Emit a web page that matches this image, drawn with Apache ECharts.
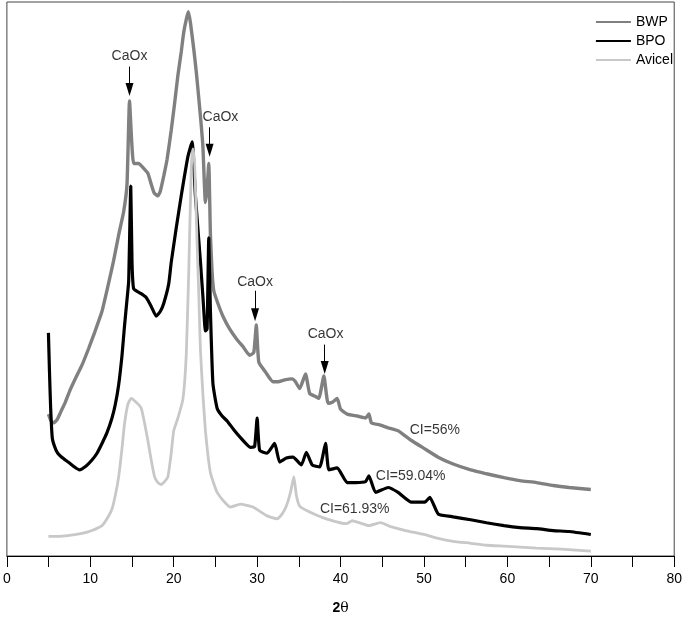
<!DOCTYPE html>
<html>
<head>
<meta charset="utf-8">
<script src="https://cdn.jsdelivr.net/npm/echarts@6/dist/echarts.min.js"></script>
<style>html,body{margin:0;padding:0;background:#fff}#c{width:685px;height:620px}</style>
</head>
<body>
<div id="c"></div>
<script>
// 2θ (deg) and relative intensity (arbitrary, offset stacked)
var bwp = [[4.98,145],[5.3,138],[5.6,136],[6.0,139],[6.5,148],[7.0,157],[7.5,168],[8.2,181],[9.0,195],[9.8,212],[10.5,228],[11.4,250],[12.2,279],[12.8,302],[13.4,328],[14.0,352],[14.4,380],[14.7,465],[14.95,425],[15.2,401],[15.8,401],[16.4,396],[16.9,391],[17.3,380],[17.65,371],[18.1,368],[18.4,373],[18.8,388],[19.2,405],[19.7,435],[20.1,462],[20.5,491],[20.9,515],[21.2,535],[21.5,548],[21.75,556],[22.0,545],[22.4,518],[22.7,495],[23.0,468],[23.3,440],[23.5,418],[23.8,361],[24.0,375],[24.2,401],[24.4,328],[24.6,290],[24.8,271],[25.3,258],[25.9,245],[26.7,232],[27.6,221],[28.3,214],[29.1,205],[29.6,208],[29.9,236],[30.2,198],[31.0,188],[31.9,178],[32.5,178],[33.3,180],[34.2,181],[34.6,178],[35.1,171],[35.8,186],[36.3,166],[37.0,163],[37.4,161],[38.0,184],[38.5,156],[39.0,157],[39.6,161],[40.0,150],[40.8,145],[42.0,143],[43.0,141],[43.4,145],[43.7,136],[44.7,134],[45.7,131],[46.9,128],[47.7,123],[48.5,118],[50.0,110],[51.7,101],[53.5,94],[55.6,88],[57.5,84],[59.6,80],[61.5,77],[63.5,75],[65.5,72],[67.4,70],[70.0,68]];
var bpo = [[4.98,228],[5.1,190],[5.25,150],[5.45,120],[5.9,108],[6.3,103],[7.0,98],[7.5,95],[8.1,91],[8.7,88],[9.5,92],[10.2,98],[10.8,105],[11.4,115],[12.0,126],[12.6,141],[13.0,155],[13.4,175],[13.8,205],[14.1,235],[14.4,262],[14.6,281],[14.85,378],[15.0,300],[15.2,273],[16.1,268],[16.7,264],[17.3,255],[17.9,245],[18.4,250],[18.8,258],[19.4,278],[19.7,300],[20.3,335],[20.9,368],[21.7,408],[22.2,423],[22.6,368],[23.2,301],[23.5,265],[23.8,230],[24.0,232],[24.2,325],[24.4,250],[24.7,176],[25.2,151],[25.8,143],[26.4,138],[27.2,129],[28.0,121],[29.2,111],[29.7,112],[30.0,141],[30.3,108],[31.2,105],[32.1,115],[32.7,96],[33.5,100],[34.3,101],[35.3,93],[35.9,106],[36.6,93],[37.5,91],[38.2,115],[38.6,88],[39.6,90],[40.8,75],[41.8,75],[43.0,76],[43.4,82],[44.2,65],[45.7,70],[46.9,65],[48.5,55],[50.1,55],[50.7,60],[51.7,43],[53.5,40],[55.6,37],[57.5,34],[59.6,31],[61.5,29],[63.5,28],[65.5,26],[67.4,25],[70.0,22]];
var avicel = [[4.98,20],[6.0,20],[7.5,21],[9.0,23],[10.2,26],[11.4,31],[12.0,38],[12.6,48],[13.0,62],[13.4,81],[13.8,110],[14.1,135],[14.5,155],[14.9,161],[15.5,157],[16.1,151],[16.5,136],[16.9,118],[17.3,98],[17.7,81],[18.1,75],[18.5,73],[18.9,76],[19.3,81],[19.7,105],[20.0,128],[20.5,141],[21.1,160],[21.5,205],[21.8,290],[22.1,395],[22.3,416],[22.5,403],[22.8,320],[23.0,268],[23.2,211],[23.5,165],[23.8,128],[24.1,103],[24.4,85],[24.8,74],[25.2,65],[26.0,56],[26.8,50],[28.0,53],[29.5,50],[31.2,41],[32.4,38],[33.0,43],[33.5,51],[34.0,65],[34.4,81],[34.7,62],[35.1,51],[36.3,45],[38.3,38],[40.7,33],[41.4,36],[43.4,31],[44.8,34],[46.0,30],[47.8,26],[50.0,22],[51.7,18],[53.5,15],[55.6,13],[57.5,11],[59.6,10],[63.5,8],[66.5,7],[70.0,5]];

// annotations
var caoxText = [[14.7,511],[25.6,448],[29.75,280],[38.2,227]];
var caoxArrowX = [14.7,24.3,29.75,38.1];
var caoxArrowTop = [500,438,271,216];
var caoxArrowTip = [470,408,240,186];
var ciLabels = ['CI=56%','CI=59.04%','CI=61.93%'];
var ciPos = [[51.3,129],[48.4,82],[41.7,48]];
var seriesNames = ['BWP','BPO','Avicel'];

var FONT = 'Liberation Sans, Arial, Helvetica, sans-serif';
var chart = echarts.init(document.getElementById('c'), null, {renderer:'canvas'});

var annData = caoxText.map(function(p){return {value:p, name:'CaOx'};})
  .concat(ciPos.map(function(p,i){return {value:p, name:ciLabels[i]};}));
// triangle head is centred on the line end, so stop the line half a head above the tip
var HEAD = 13;
var arrows = caoxArrowX.map(function(x,i){
  return [{coord:[x,caoxArrowTop[i]]},{coord:[x,caoxArrowTip[i] + HEAD/2]}];
});

function lineSeries(name, data, color, width, z){
  return {name:name,type:'line',data:data,showSymbol:false,symbol:'none',color:color,
    smooth:0.15,lineStyle:{width:width,color:color},z:z};
}

chart.setOption({
  animation:false,
  textStyle:{fontFamily:FONT},
  grid:{left:4,right:6,top:2,bottom:52,show:true,borderColor:'#444',borderWidth:1,backgroundColor:'transparent'},
  legend:{
    data:seriesNames, orient:'vertical', right:7, top:10,
    icon:'rect', itemWidth:35, itemHeight:2, itemGap:5, itemTextGap:3,
    textStyle:{fontSize:14,color:'#000',fontFamily:FONT}
  },
  xAxis:{
    type:'value', min:0, max:80, interval:10,
    name:'{b|2}{t|θ}', nameLocation:'middle', nameGap:45,
    nameTextStyle:{rich:{b:{fontSize:14,fontWeight:'bold',color:'#000',fontFamily:FONT},t:{fontSize:14,color:'#000',fontFamily:'DejaVu Serif, serif'}}},
    axisLine:{lineStyle:{color:'#000',width:1}},
    axisTick:{show:true,inside:false,length:11,lineStyle:{color:'#000'}},
    minorTick:{show:true,splitNumber:2,length:11,lineStyle:{color:'#000'}},
    splitLine:{show:false},
    axisLabel:{fontSize:14,color:'#000',margin:16,fontFamily:FONT}
  },
  yAxis:{type:'value',min:0,max:566,show:false,splitLine:{show:false}},
  series:[
    lineSeries('BWP', bwp, '#808080', 3.4, 2),
    lineSeries('BPO', bpo, '#000000', 3.2, 3),
    lineSeries('Avicel', avicel, '#c8c8c8', 2.8, 4),
    {name:'ann',type:'scatter',data:annData,symbolSize:1,itemStyle:{color:'rgba(0,0,0,0)'},silent:true,z:10,
      label:{show:true,position:'inside',formatter:'{b}',fontSize:14,color:'#000',fontFamily:FONT},
      markLine:{silent:true,symbol:['none','triangle'],symbolSize:[8,HEAD],label:{show:false},
        lineStyle:{color:'#000',width:1,type:'solid'},emphasis:{disabled:true},data:arrows}
    }
  ]
});
</script>
</body>
</html>
